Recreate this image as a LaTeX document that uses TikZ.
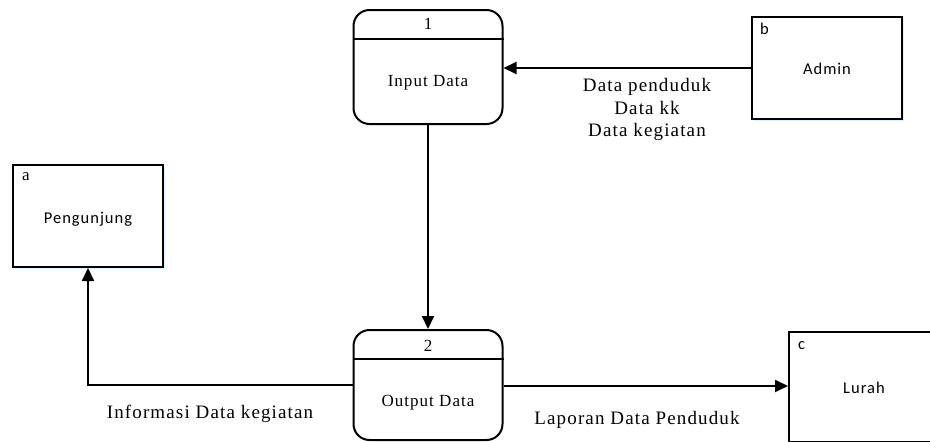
\documentclass[tikz,border=0pt]{standalone}
\usepackage{fontspec}
\setmainfont{Liberation Serif}[LetterSpace=6]
\newfontfamily\entfont{Carlito}[LetterSpace=6]
\usetikzlibrary{arrows.meta,shadows}
\tikzset{
  proc/.style={draw,line width=2pt,rounded corners=16pt,minimum width=149pt,inner sep=0pt},
  ent/.style={draw,line width=2pt,fill=white,minimum width=150pt,minimum height=102pt,inner sep=0pt,
    drop shadow={shadow xshift=2pt,shadow yshift=-2pt,fill=blue!40!cyan,opacity=0.15}},
  lbl/.style={font=\fontsize{17}{22}\selectfont,inner sep=0pt,align=center},
  flbl/.style={font=\fontsize{19}{22.5}\selectfont,inner sep=0pt,align=center},
  elbl/.style={font=\entfont\fontsize{16.5}{20}\selectfont,inner sep=0pt},
  arr/.style={line width=2pt,-{Triangle[length=13pt,width=12pt]}},
  conn/.style={line width=2pt}
}
\begin{document}
\begin{tikzpicture}[x=1pt,y=-1pt]
\useasboundingbox (0,0) rectangle (930,442);
\clip (0,0) rectangle (930,442);
% processes
\node[proc,minimum height=114pt] (p1) at (428,67) {};
\draw[conn] ([yshift=-30pt]p1.north west) -- ([yshift=-30pt]p1.north east);
\node[lbl] (p1n) at (428,24) {1};
\node[lbl] (p1t) at (428,83) {Input Data};
\node[proc,minimum height=110pt] (p2) at (428,385) {};
\draw[conn] ([yshift=-30pt]p2.north west) -- ([yshift=-30pt]p2.north east);
\node[lbl] (p2n) at (428,346) {2};
\node[lbl] (p2t) at (428,403) {Output Data};
% entities
\node[ent] (adm) at (827,68) {};
\node[elbl] (admt) at (827,69) {Admin};
\node[elbl,anchor=west] (admk) at (760,29) {b};
\node[ent] (peng) at (88,216) {};
\node[elbl] (pengt) at (88,219) {Pengunjung};
\node[lbl,anchor=west] (pengk) at (22,177) {a};
\node[ent,minimum height=110pt] (lur) at (864,387) {};
\node[elbl] (lurt) at (864,388) {Lurah};
\node[elbl,anchor=west] (lurk) at (798,346) {c};
% connectors
\draw[arr] (adm.west) -- (adm.west -| p1.east);
\draw[arr] (p1.south) -- (p2.north);
\draw[arr] (p2.west) -| (peng.south);
\draw[arr] ([yshift=-1pt]p2.east) -- ([yshift=-1pt]p2.east -| lur.west);
% flow labels
\node[flbl] (l1) at (647,109.5) {Data penduduk\\Data kk\\Data kegiatan};
\node[flbl] (l2) at (210,414) {Informasi Data kegiatan};
\node[flbl] (l3) at (637,420) {Laporan Data Penduduk};
\end{tikzpicture}
\end{document}
